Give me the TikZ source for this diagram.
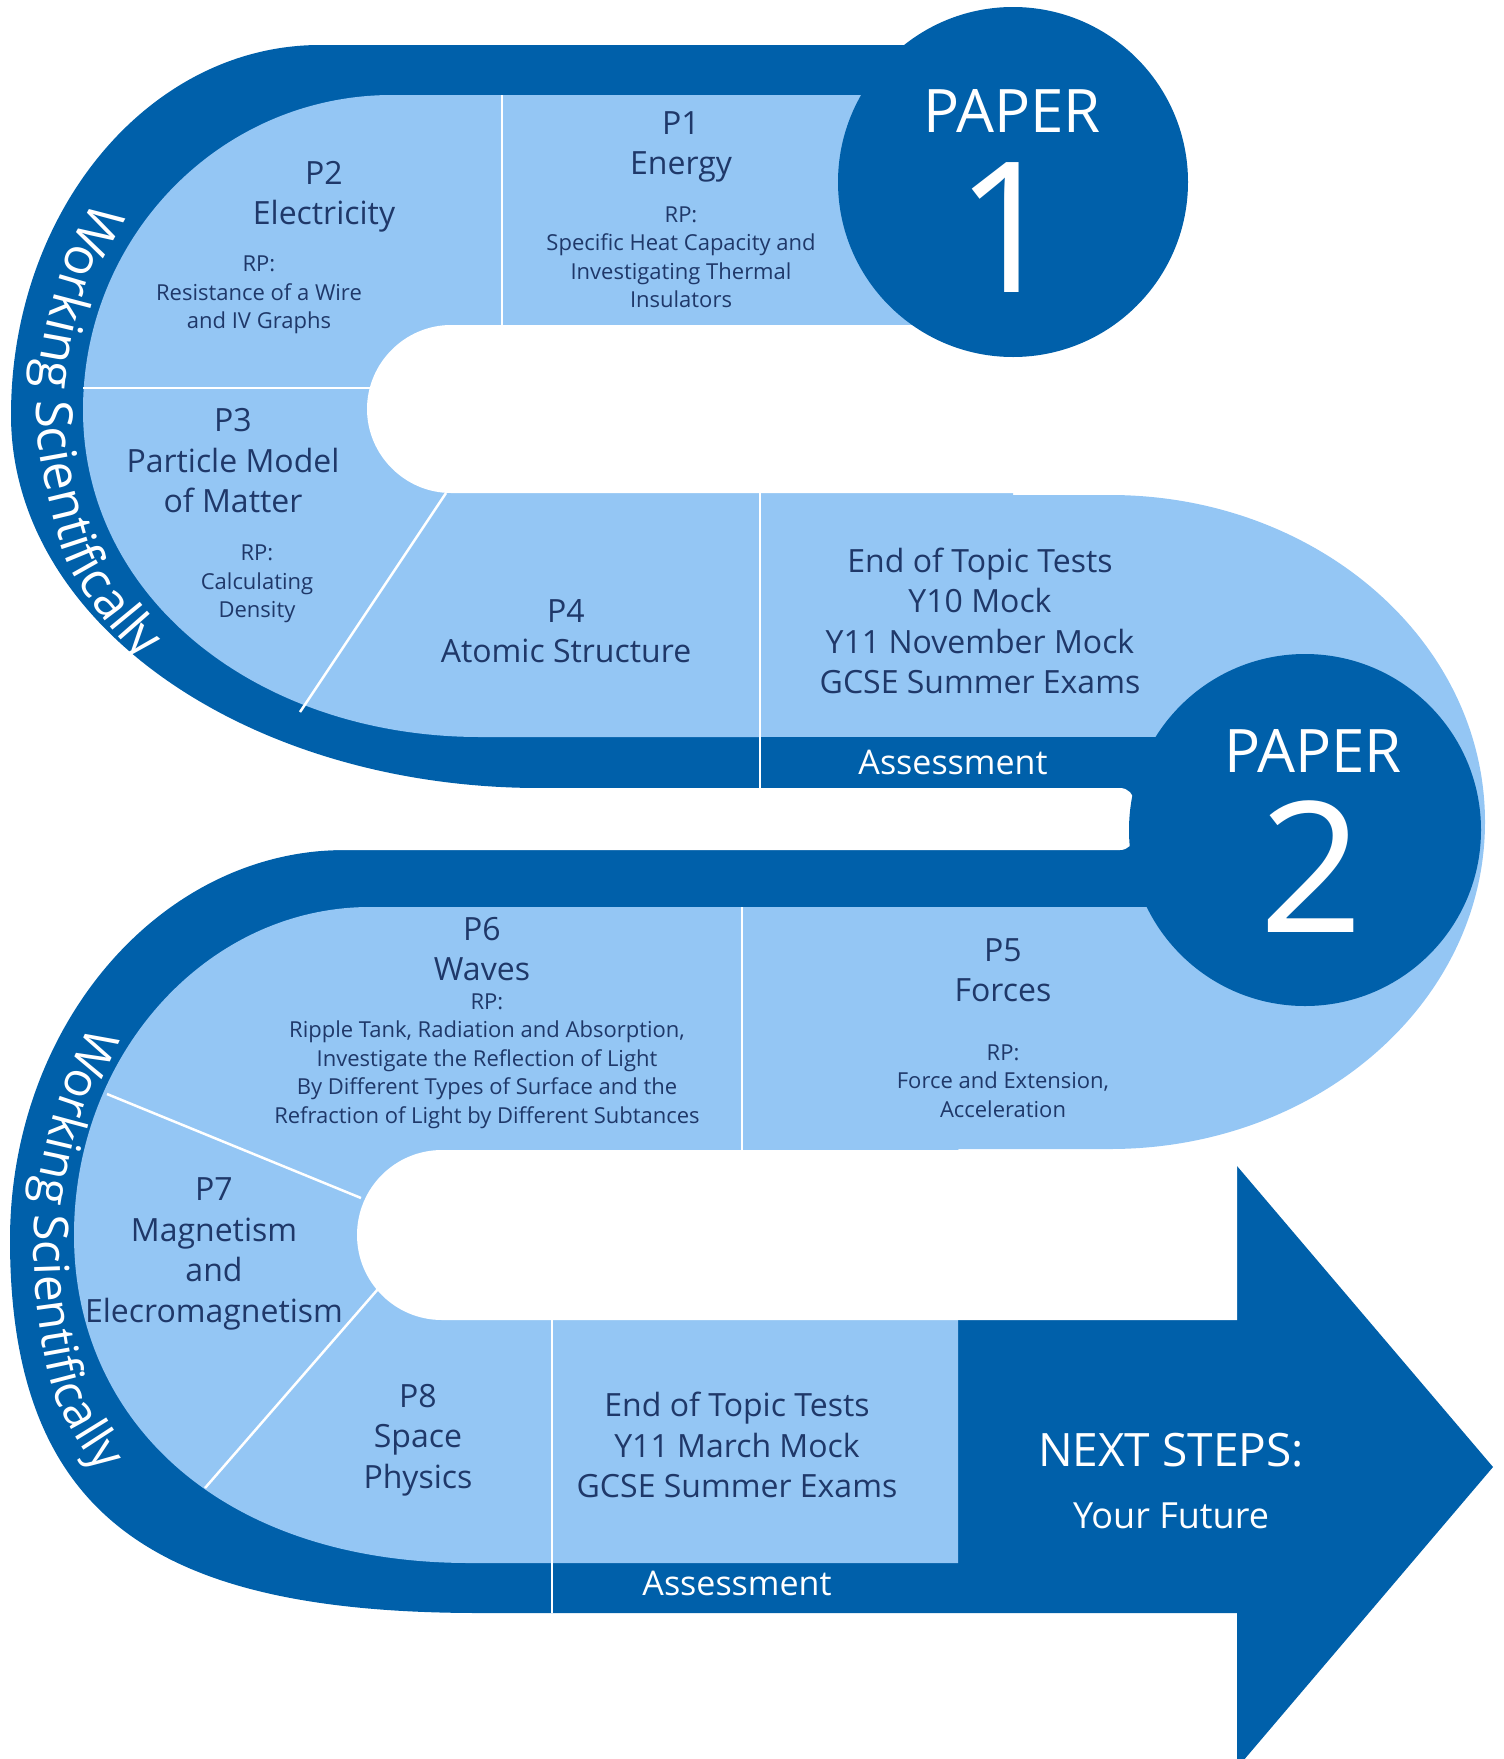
\documentclass[tikz,border=0pt]{standalone}
\usepackage{fontspec}
\setmainfont{Open Sans}
\usepackage{tikz}
\usetikzlibrary{decorations.text}
\definecolor{PathBlue}{RGB}{0,96,170}
\definecolor{PathLight}{RGB}{148,198,244}
\definecolor{TopicNavy}{RGB}{31,56,105}

\begin{document}
\begin{tikzpicture}[x=1pt,y=-1pt,
      band/.style={fill=PathBlue},
      lane/.style={fill=PathLight},
      gap/.style={fill=white},
      divider/.style={draw=white,line width=2.5pt},
      topic/.style={text=TopicNavy,align=center,font=\fontsize{32}{40.5}\selectfont},
      rp/.style={text=TopicNavy,align=center,font=\fontsize{22}{28.5}\selectfont},
      whitetxt/.style={text=white,align=center}]
    \useasboundingbox (0,0) rectangle (1504,1759);
    % dark outer bands of the two left bends, arrow included
    \path[band] (1013,45) -- (320,45) .. controls (149,45) and (11,211) .. (11,415)
      .. controls (11,625) and (250,788) .. (540,788) -- (760,788) -- (760,95) -- (1013,95) -- cycle;
    \path[band] (1305,850) -- (345,850) .. controls (160,850) and (10,1026) .. (10,1240)
      .. controls (10,1520) and (160,1613) .. (480,1613) -- (1237,1613) -- (1237,1768)
      -- (1493,1467) -- (1237,1166) -- (1237,1320) -- (958,1320) -- (958,907) -- (1305,907) -- cycle;
    % light lanes
    \path[lane] (1013,95) -- (392,95) .. controls (221,95) and (83,236) .. (83,410)
      .. controls (83,600) and (260,737) .. (480,737) -- (1013,737) -- cycle;
    \path[lane] (958,907) -- (370,907) .. controls (207,907) and (74,1054) .. (74,1235)
      .. controls (74,1420) and (220,1563) .. (470,1563) -- (958,1563) -- cycle;
    \path[lane] (760,495) -- (1110,495) .. controls (1317,495) and (1485,641) .. (1485,822)
      .. controls (1485,1003) and (1317,1149) .. (1110,1149) -- (760,1149) -- cycle;
    \path[band] (760,737) rectangle (1305,907);
    % white slots between the lanes
    \path[gap] (1600,325) -- (451,325) .. controls (405,325) and (367,363) .. (367,409)
      .. controls (367,455) and (405,493) .. (451,493) -- (1600,493) -- cycle;
    \path[gap,rounded corners=14pt] (-20,788) -- (1134,788) -- (1134,850) -- (-20,850) -- cycle;
    \path[gap] (1237,1150) -- (442,1150) .. controls (395,1150) and (357,1188) .. (357,1235)
      .. controls (357,1282) and (395,1320) .. (442,1320) -- (1237,1320) -- cycle;
    % paper badges
    \path[band] (1013,182) circle[radius=175pt];
    \path[band] (1305,830) circle[radius=176pt];
    % dividers
    \draw[divider] (502,95) -- (502,325);
    \draw[divider] (83,388) -- (371,388);
    \draw[divider] (446,493) -- (300,712);
    \draw[divider] (760,493) -- (760,788);
    \draw[divider] (742,907) -- (742,1150);
    \draw[divider] (107,1094) -- (361,1198);
    \draw[divider] (378,1289) -- (205,1488);
    \draw[divider] (552,1320) -- (552,1613);
    % working scientifically along the bends
    \path[decorate,decoration={text along path,text align=center,
        text={|\fontsize{51}{51}\selectfont\color{white}|Working Scientifically}}]
      plot[smooth] coordinates {(150,133) (117,167) (71,244) (44,338) (36,415) (44,477) (70,568) (126,645) (180,683) (220,703)};
    \path[decorate,decoration={text along path,text align=center,
        text={|\fontsize{48}{48}\selectfont\color{white}|Working Scientifically}}]
      plot[smooth] coordinates {(131,972) (86,1034) (55,1111) (37,1190) (34,1240) (37,1304) (55,1397) (101,1474) (150,1518)};
    % Paper 1 topics
    \node[topic] (p1title) at (681,147) {P1\\Energy};
    \node[rp] (p1rp) at (681,257) {RP:\\Specific Heat Capacity and\\Investigating Thermal\\Insulators};
    \node[topic] (p2title) at (324,197) {P2\\Electricity};
    \node[rp] (p2rp) at (259,295) {RP:\\Resistance of a Wire\\and IV Graphs};
    \node[topic] (p3title) at (233,461) {P3\\Particle Model\\of Matter};
    \node[rp] (p3rp) at (257,584) {RP:\\Calculating\\Density};
    \node[topic] (p4title) at (566,631) {P4\\Atomic Structure};
    \node[topic] (eot1) at (980,621) {End of Topic Tests\\Y10 Mock\\Y11 November Mock\\GCSE Summer Exams};
    \node[whitetxt,font=\fontsize{34}{34}\selectfont] (assess1) at (953,762) {Assessment};
    \node[whitetxt,font=\fontsize{60}{60}\selectfont] (paper1) at (1012,111) {PAPER};
    \node[whitetxt,font=\fontsize{182}{182}\selectfont] (one) at (1008,228) {1};
    % Paper 2 topics
    \node[whitetxt,font=\fontsize{60}{60}\selectfont] (paper2) at (1313,751) {PAPER};
    \node[whitetxt,font=\fontsize{182}{182}\selectfont] (two) at (1312,867) {2};
    \node[topic] (p5title) at (1003,970) {P5\\Forces};
    \node[rp] (p5rp) at (1003,1081) {RP:\\Force and Extension,\\Acceleration};
    \node[topic] (p6title) at (482,949) {P6\\Waves};
    \node[rp] (p6rp) at (487,1061) {RP:\\Ripple Tank, Radiation and Absorption,\\Investigate the Reflection of Light\\By Different Types of Surface and the\\Refraction of Light by Different Subtances};
    \node[topic] (p7title) at (214,1254) {P7\\Magnetism\\and\\Elecromagnetism};
    \node[topic] (p8title) at (418,1440) {P8\\Space\\Physics};
    \node[topic] (eot2) at (737,1445) {End of Topic Tests\\Y11 March Mock\\GCSE Summer Exams};
    \node[whitetxt,font=\fontsize{34}{34}\selectfont] (assess2) at (737,1583) {Assessment};
    \node[whitetxt,font=\fontsize{46}{46}\selectfont] (next) at (1171,1450) {NEXT STEPS:};
    \node[whitetxt,font=\fontsize{36}{36}\selectfont] (future) at (1171,1516) {Your Future};
  \end{tikzpicture}
\end{document}
